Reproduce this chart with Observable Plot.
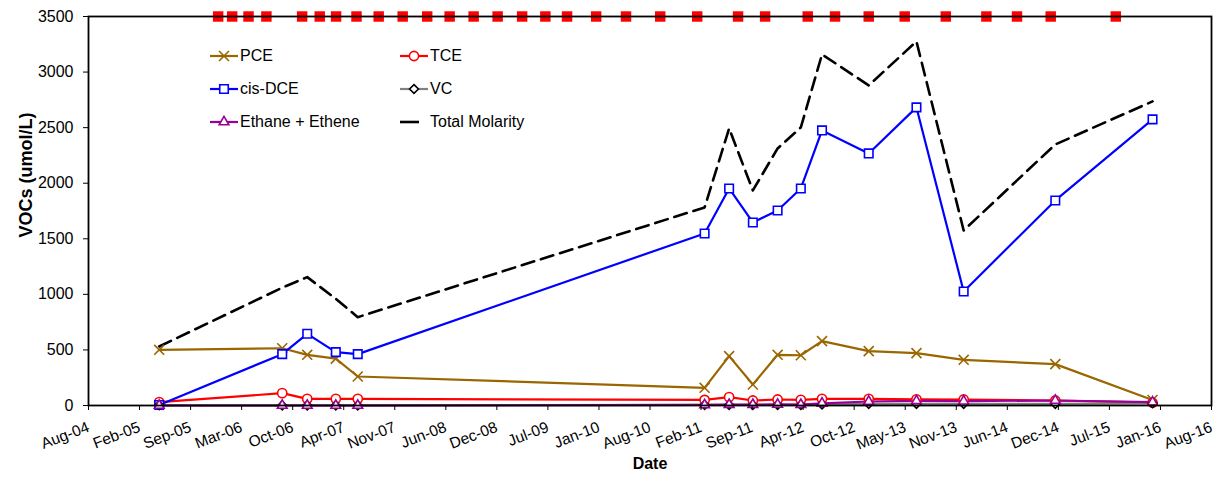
<!DOCTYPE html>
<html>
<head>
<meta charset="utf-8">
<script src="https://cdn.jsdelivr.net/npm/d3@7"></script>
<script src="https://cdn.jsdelivr.net/npm/@observablehq/plot@0.6"></script>
<style>
  html, body { margin: 0; padding: 0; background: #fff; }
  #wrap { position: relative; width: 1218px; height: 477px; font-family: "Liberation Sans", Arial, sans-serif; }
  #legend { position: absolute; left: 0; top: 0; width: 0; height: 0; }
  .lg { position: absolute; display: flex; align-items: center; font-size: 16px; color: #000; white-space: nowrap; }
  .lg svg { display: block; margin-right: 2px; }
</style>
</head>
<body>
<div id="wrap"><div id="legend"></div></div>
<script>
// ---- Data ----
const sampleDates = ["2005-05-05","2006-08-30","2006-12-06","2007-03-28","2007-06-22",
  "2011-03-12","2011-06-16","2011-09-17","2011-12-23","2012-03-23","2012-06-14",
  "2012-12-14","2013-06-19","2013-12-21","2014-12-15","2015-12-31"];
const pce     = [501, 515, 456, 422, 261, 159, 444, 189, 456, 452, 579, 489, 471, 411, 372, 50];
const tce     = [30, 111, 60, 60, 60, 50, 75, 45, 54, 51, 60, 60, 55, 54, 45, 25];
const cisDCE  = [5, 462, 645, 480, 462, 1548, 1953, 1647, 1755, 1953, 2475, 2268, 2682, 1026, 1845, 2574];
const vc      = [2, 1, 1, 1, 1, 5, 5, 5, 5, 5, 10, 15, 15, 15, 15, 20];
const ethane  = [0, 0, 0, 0, 0, 5, 8, 8, 10, 8, 20, 36, 42, 39, 45, 30];
const total   = [531, 1060, 1155, 960, 795, 1782, 2493, 1935, 2313, 2502, 3159, 2880, 3276, 1575, 2349, 2736];

// event markers along the top of the chart
const eventDates = ["2005-12-22","2006-02-15","2006-04-20","2006-06-29","2006-11-16","2007-01-24",
  "2007-03-29","2007-06-17","2007-09-12","2007-12-15","2008-03-20","2008-06-16","2008-09-18",
  "2008-12-21","2009-03-27","2009-06-26","2009-09-19","2010-01-11","2010-05-08","2010-09-19",
  "2011-02-11","2011-07-21","2011-11-04","2012-04-19","2012-08-04","2012-12-14","2013-05-04",
  "2013-10-12","2014-03-20","2014-07-18","2014-11-27","2015-08-09"];
const eventLevel = 3500;

// axis ticks
const xTicks = ["2004-08-01","2005-02-17","2005-09-05","2006-03-24","2006-10-10","2007-04-28",
  "2007-11-14","2008-06-01","2008-12-18","2009-07-06","2010-01-22","2010-08-10","2011-02-26",
  "2011-09-14","2012-04-01","2012-10-18","2013-05-06","2013-11-22","2014-06-10","2014-12-27",
  "2015-07-15","2016-01-31","2016-08-18"];
const yTicks = [0, 500, 1000, 1500, 2000, 2500, 3000, 3500];

const seriesNames = ["PCE", "TCE", "cis-DCE", "VC", "Ethane + Ethene", "Total Molarity"];
const seriesColors = ["#996600", "#ff0000", "#0000ff", "#808080", "#990099", "#000000"];

// ---- Build ----
const parse = d3.utcParse("%Y-%m-%d");
const dates = sampleDates.map(parse);
const valueSets = [pce, tce, cisDCE, vc, ethane, total];
const series = seriesNames.map((name, k) => ({
  name, color: seriesColors[k],
  rows: valueSets[k].map((v, i) => ({date: dates[i], value: v}))
}));
const symbolSpec = {
  "PCE": {symbol: "times", r: 4.6, fill: "none", stroke: "#996600"},
  "TCE": {symbol: "circle", r: 4.6, fill: "white", stroke: "#ff0000"},
  "cis-DCE": {symbol: "square", r: 4.8, fill: "white", stroke: "#0000ff"},
  "VC": {symbol: "diamond2", r: 4, fill: "white", stroke: "#000000"},
  "Ethane + Ethene": {symbol: "triangle", r: 3.6, fill: "white", stroke: "#990099"}
};
const events = eventDates.map(d => ({date: parse(d), value: eventLevel}));

const marks = [];
for (const s of series) {
  if (s.name === "Total Molarity") {
    marks.push(Plot.lineY(s.rows, {x: "date", y: "value", stroke: s.color, strokeWidth: 2.6, strokeDasharray: "13,7"}));
  } else {
    marks.push(Plot.lineY(s.rows, {x: "date", y: "value", stroke: s.color, strokeWidth: 2.2}));
  }
}
for (const s of series) {
  const sp = symbolSpec[s.name];
  if (!sp) continue;
  marks.push(Plot.dot(s.rows, {x: "date", y: "value", symbol: () => sp.symbol, r: sp.r, fill: sp.fill, stroke: sp.stroke, strokeWidth: 1.6}));
}

const chart = Plot.plot({
  width: 1218,
  height: 477,
  marginTop: 16,
  marginRight: 7,
  marginBottom: 72,
  marginLeft: 88,
  style: {fontFamily: "'Liberation Sans', Arial, sans-serif", fontSize: "16px", color: "#000", background: "#fff"},
  x: {type: "utc", domain: [parse(xTicks[0]), parse(xTicks[xTicks.length - 1])]},
  y: {domain: [0, 3500]},
  marks: [
    ...marks,
    Plot.dot(events, {x: "date", y: "value", symbol: "square", r: 5.9, fill: "#ff0000", stroke: "none"}),
    Plot.frame({stroke: "#000", strokeWidth: 1.8}),
    Plot.axisX({ticks: xTicks.map(parse), tickFormat: d3.utcFormat("%b-%y"), tickRotate: -21, tickSize: 5, tickPadding: 16, label: null, stroke: "#000", fontSize: 15.5}),
    Plot.axisY({ticks: yTicks, tickFormat: d => String(d), tickSize: 5, tickPadding: 10, label: null, stroke: "#000", fontSize: 16}),
    Plot.text(["Date"], {frameAnchor: "bottom", dy: 63, fontWeight: "bold", fontSize: 16}),
    Plot.text(["VOCs (umol/L)"], {frameAnchor: "left", textAnchor: "middle", dx: -62, dy: -36, rotate: -90, fontWeight: "bold", fontSize: 18})
  ]
});
document.getElementById("wrap").prepend(chart);

// ---- Legend (inside plot area, HTML overlay) ----
const legendItems = [
  {name: "PCE", col: 0, row: 0},
  {name: "TCE", col: 1, row: 0},
  {name: "cis-DCE", col: 0, row: 1},
  {name: "VC", col: 1, row: 1},
  {name: "Ethane + Ethene", col: 0, row: 2},
  {name: "Total Molarity", col: 1, row: 2}
];
const colX = [210, 400];
const rowY = [56, 89, 122];
const legend = document.getElementById("legend");
for (const it of legendItems) {
  const k = seriesNames.indexOf(it.name);
  const color = seriesColors[k];
  const div = document.createElement("div");
  div.className = "lg";
  div.style.left = colX[it.col] + "px";
  div.style.top = (rowY[it.row] - 10) + "px";
  div.style.height = "20px";
  const sw = d3.create("svg").attr("width", 28).attr("height", 20);
  if (it.name === "Total Molarity") {
    sw.append("line").attr("x1", 0).attr("x2", 19).attr("y1", 10).attr("y2", 10).attr("stroke", color).attr("stroke-width", 2.6);
  } else {
    sw.append("line").attr("x1", 0).attr("x2", 28).attr("y1", 10).attr("y2", 10).attr("stroke", color).attr("stroke-width", 2.2);
    const sp = symbolSpec[it.name];
    const symMap = {times: d3.symbolTimes, circle: d3.symbolCircle, square: d3.symbolSquare, diamond2: d3.symbolDiamond2, triangle: d3.symbolTriangle};
    sw.append("path")
      .attr("transform", "translate(14,10)")
      .attr("d", d3.symbol(symMap[sp.symbol], Math.PI * sp.r * sp.r)())
      .attr("fill", sp.fill).attr("stroke", sp.stroke).attr("stroke-width", 1.6);
  }
  div.appendChild(sw.node());
  const span = document.createElement("span");
  span.textContent = it.name;
  div.appendChild(span);
  legend.appendChild(div);
}
</script>
</body>
</html>
